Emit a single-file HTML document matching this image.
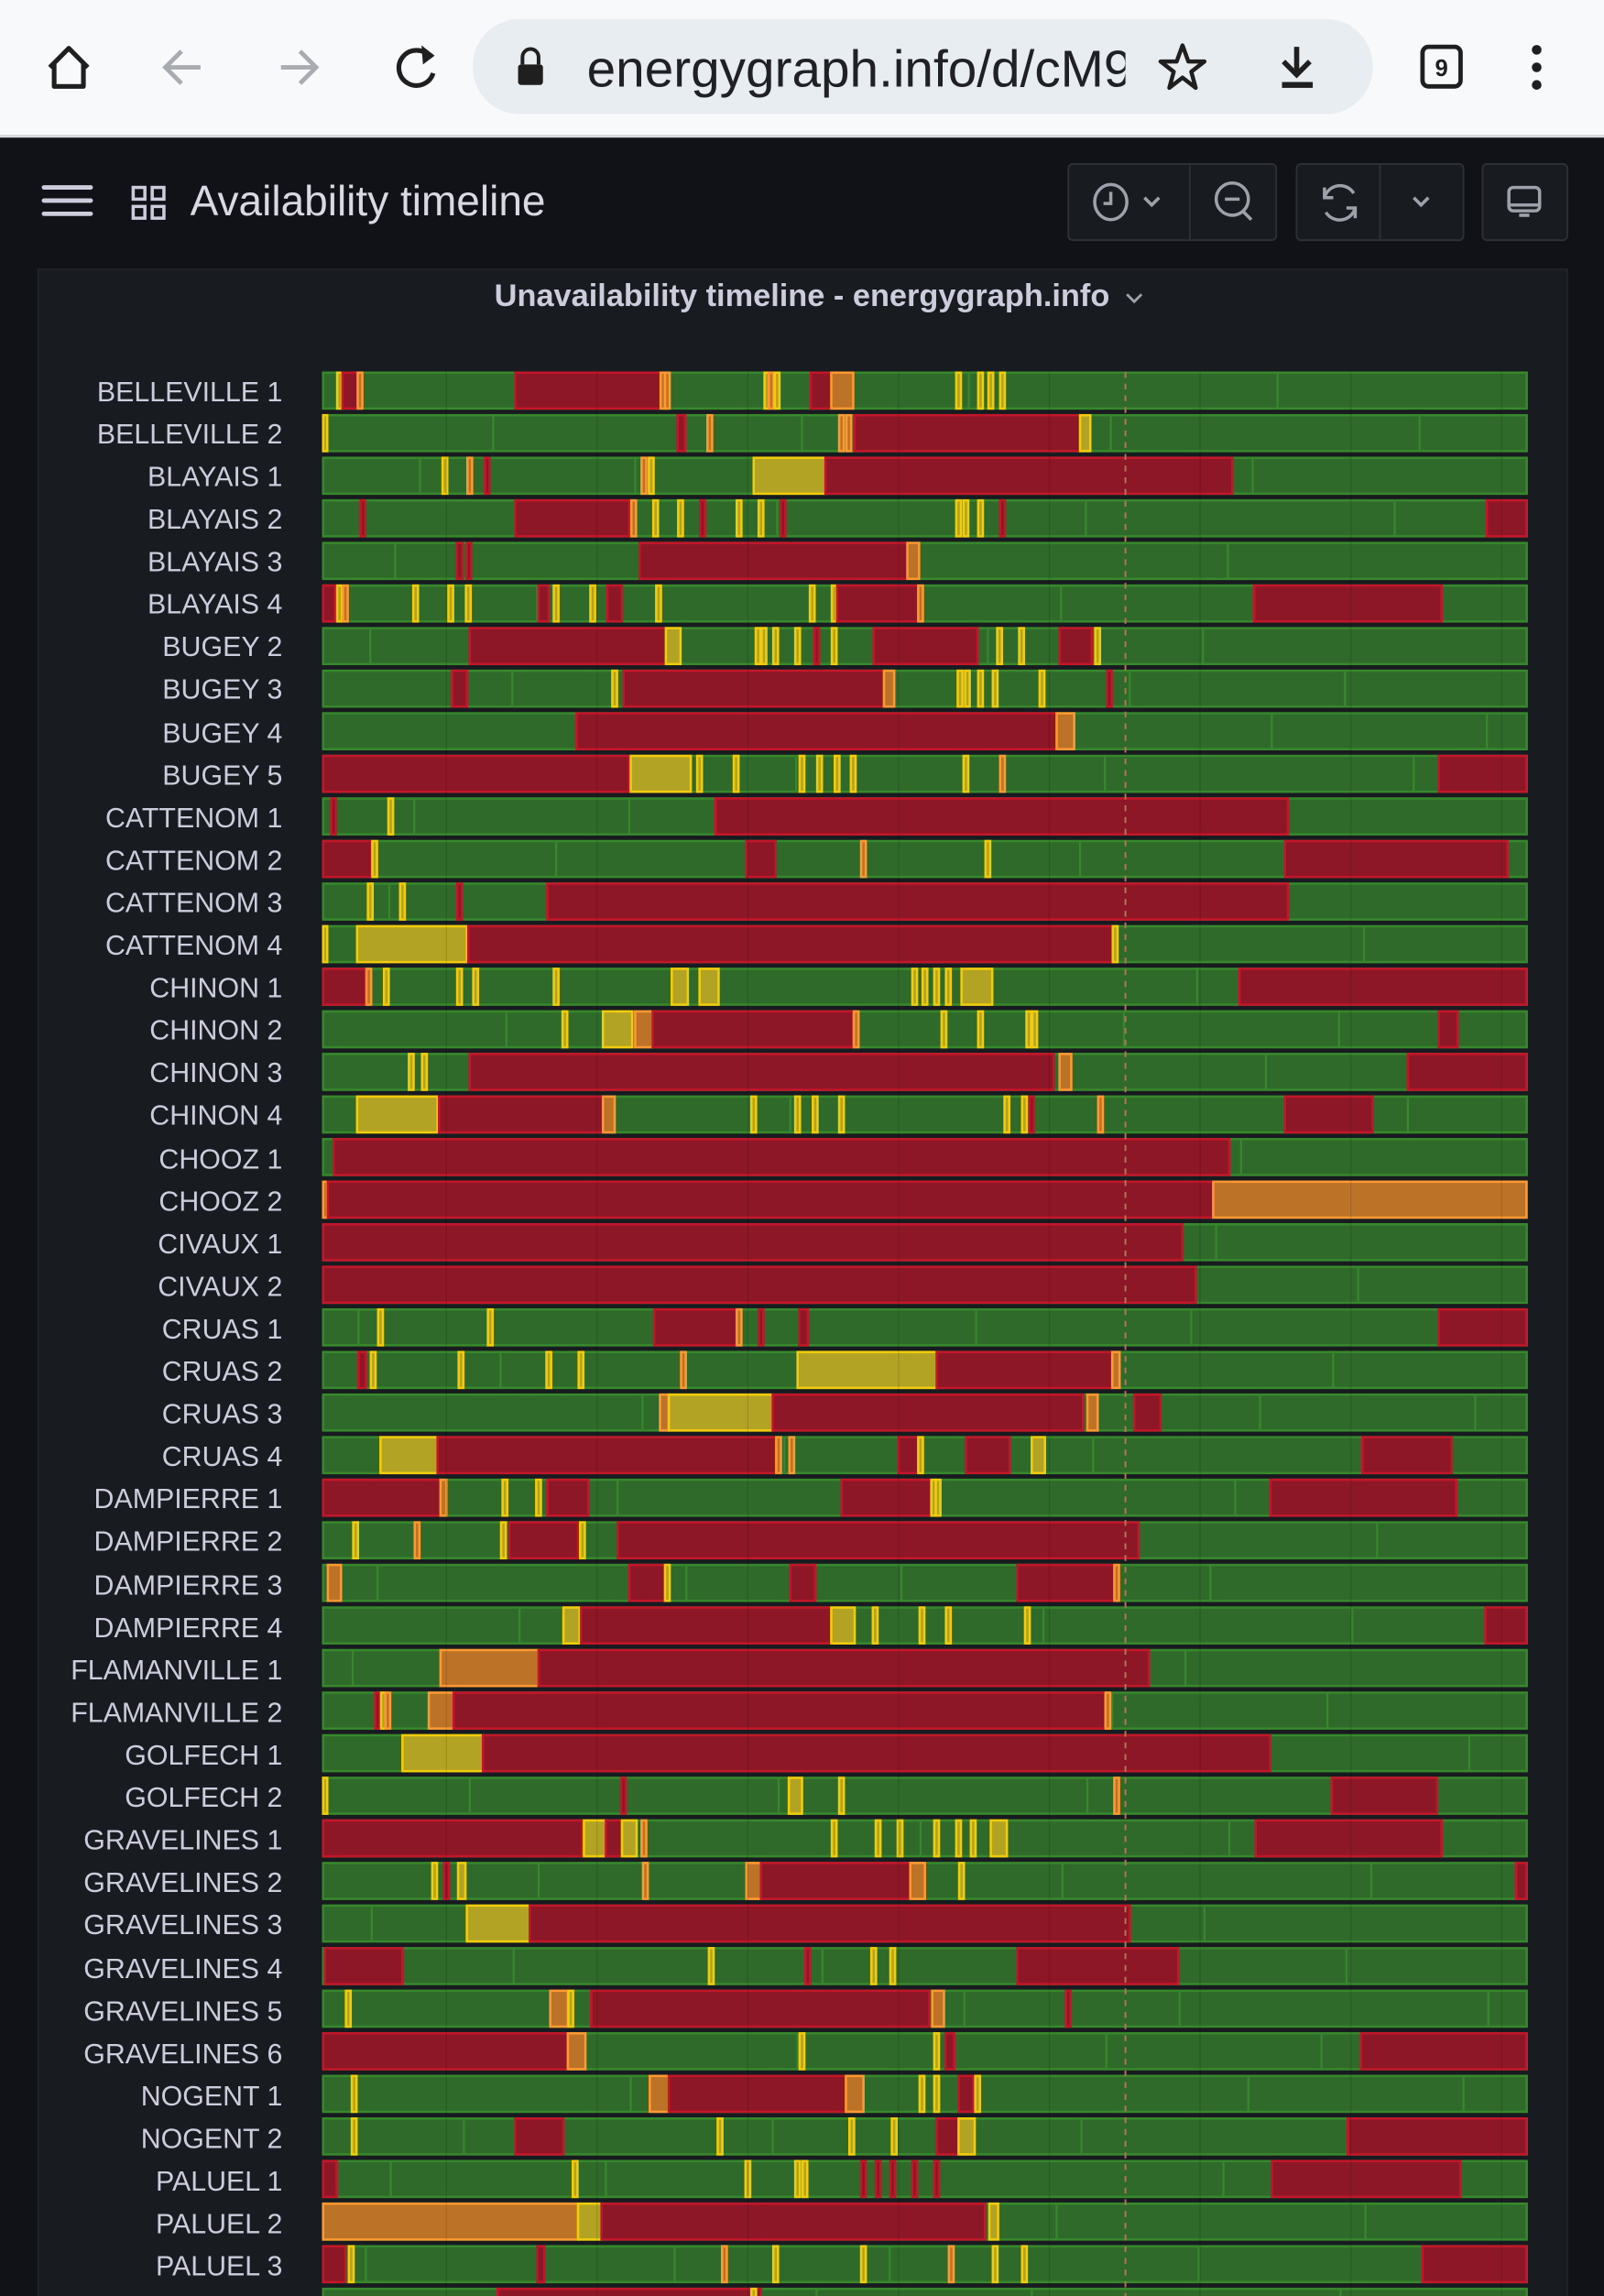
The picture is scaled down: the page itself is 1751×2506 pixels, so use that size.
<!DOCTYPE html>
<html><head><meta charset="utf-8"><style>
html,body{margin:0;padding:0;background:#111217;}
svg{display:block;}
text{font-family:"Liberation Sans",sans-serif;}
</style></head><body>
<svg id="s" xmlns="http://www.w3.org/2000/svg" width="1751" height="2506" viewBox="0 0 1096 1568" preserveAspectRatio="none">
<rect x="0" y="0" width="1096" height="1568" fill="#111217"/>
<rect x="0" y="0" width="1096" height="92" fill="#f8f9fb"/>
<rect x="0" y="92" width="1096" height="2" fill="#dadce0"/>
<path d="M34 46 L47 33 L60 46 M37 43 V59 H57 V43" fill="none" stroke="#1f1f1f" stroke-width="3.2" stroke-linejoin="round"/>
<path d="M137 46 H113 M124 35 L113 46 L124 57" fill="none" stroke="#a8abb0" stroke-width="3"/>
<path d="M192 46 H216 M205 35 L216 46 L205 57" fill="none" stroke="#a8abb0" stroke-width="3"/>
<path d="M294 39 A12 12 0 1 0 296 50" fill="none" stroke="#1f1f1f" stroke-width="3.2"/>
<path d="M288 31 L297 38 L289 44 Z" fill="#1f1f1f"/>
<rect x="323" y="13" width="615" height="65" rx="32" fill="#e8edf2"/>
<rect x="354" y="44" width="17" height="14" rx="2" fill="#1f1f1f"/>
<path d="M357 44 V39 A5.5 5.5 0 0 1 368 39 V44" fill="none" stroke="#1f1f1f" stroke-width="2.5"/>
<svg x="401" y="20" width="368" height="55"><text x="0" y="39" font-size="35.5" fill="#202124">energygraph.info/d/cM9</text></svg>
<path d="M808 31 L812 42 L823 42 L814 49 L817 60 L808 53 L799 60 L802 49 L793 42 L804 42 Z" fill="none" stroke="#1f1f1f" stroke-width="2.8" stroke-linejoin="round"/>
<path d="M886 32 V50 M877 42 L886 51 L895 42" fill="none" stroke="#1f1f1f" stroke-width="3.5"/>
<rect x="876" y="56" width="21" height="4" fill="#1f1f1f"/>
<rect x="972" y="32" width="26" height="27" rx="4" fill="none" stroke="#1f1f1f" stroke-width="3"/>
<text x="985" y="52" font-size="16" font-weight="bold" text-anchor="middle" fill="#1f1f1f">9</text>
<circle cx="1050" cy="34" r="3.3" fill="#1f1f1f"/><circle cx="1050" cy="46" r="3.3" fill="#1f1f1f"/><circle cx="1050" cy="58" r="3.3" fill="#1f1f1f"/>
<path d="M30 128 H62 M30 137 H62 M30 146 H62" stroke="#ccccdc" stroke-width="3" stroke-linecap="round"/>
<g fill="none" stroke="#ccccdc" stroke-width="2.2"><rect x="91" y="128" width="8" height="8"/><rect x="104" y="128" width="8" height="8"/><rect x="91" y="141" width="8" height="8"/><rect x="104" y="141" width="8" height="8"/></g>
<text x="130" y="147" font-size="28.8" fill="#d8d9e3">Availability timeline</text>
<g fill="#181b1f" stroke="#2c3036" stroke-width="1.2">
<rect x="730" y="112" width="142" height="52" rx="3"/><rect x="886" y="112" width="114" height="52" rx="3"/><rect x="1013" y="112" width="58" height="52" rx="3"/>
</g>
<path d="M813 112 V164 M943 112 V164" stroke="#2c3036" stroke-width="1.2"/>
<g fill="none" stroke="#9fa1aa" stroke-width="2.2">
<ellipse cx="759" cy="138" rx="11" ry="12"/><path d="M759 131 V139 H754"/>
<path d="M782 135 L787 140 L792 135"/>
<circle cx="842" cy="136" r="11"/><path d="M837 136 H847 M849 144 L855 150"/>
<path d="M905 135 A11 11 0 0 1 925 132 M926 142 A11 11 0 0 1 906 145 M905 128 V135 H911 M926 149 V142 H920"/>
<path d="M966 135 L971 140 L976 135"/>
<rect x="1031" y="128" width="21" height="16" rx="3"/><path d="M1031 140 H1052 M1038 147 H1045"/>
</g>
<rect x="26" y="184" width="1045" height="1400" fill="#181b1f" stroke="#22252b" stroke-width="1"/>
<text x="548" y="209" font-size="21.5" text-anchor="middle" fill="#ccccdc" font-weight="bold">Unavailability timeline - energygraph.info</text>
<path d="M770 201 L775 206 L780 201" fill="none" stroke="#9fa1aa" stroke-width="1.8"/>
<g id="bars"></g>
<g font-size="19" fill="#ccccdc" text-anchor="end">
<text x="193" y="274">BELLEVILLE 1</text><text x="193" y="303">BELLEVILLE 2</text><text x="193" y="332">BLAYAIS 1</text><text x="193" y="361">BLAYAIS 2</text><text x="193" y="390">BLAYAIS 3</text><text x="193" y="419">BLAYAIS 4</text><text x="193" y="448">BUGEY 2</text><text x="193" y="477">BUGEY 3</text><text x="193" y="507">BUGEY 4</text><text x="193" y="536">BUGEY 5</text><text x="193" y="565">CATTENOM 1</text><text x="193" y="594">CATTENOM 2</text><text x="193" y="623">CATTENOM 3</text><text x="193" y="652">CATTENOM 4</text><text x="193" y="681">CHINON 1</text><text x="193" y="710">CHINON 2</text><text x="193" y="739">CHINON 3</text><text x="193" y="768">CHINON 4</text><text x="193" y="798">CHOOZ 1</text><text x="193" y="827">CHOOZ 2</text><text x="193" y="856">CIVAUX 1</text><text x="193" y="885">CIVAUX 2</text><text x="193" y="914">CRUAS 1</text><text x="193" y="943">CRUAS 2</text><text x="193" y="972">CRUAS 3</text><text x="193" y="1001">CRUAS 4</text><text x="193" y="1030">DAMPIERRE 1</text><text x="193" y="1059">DAMPIERRE 2</text><text x="193" y="1089">DAMPIERRE 3</text><text x="193" y="1118">DAMPIERRE 4</text><text x="193" y="1147">FLAMANVILLE 1</text><text x="193" y="1176">FLAMANVILLE 2</text><text x="193" y="1205">GOLFECH 1</text><text x="193" y="1234">GOLFECH 2</text><text x="193" y="1263">GRAVELINES 1</text><text x="193" y="1292">GRAVELINES 2</text><text x="193" y="1321">GRAVELINES 3</text><text x="193" y="1351">GRAVELINES 4</text><text x="193" y="1380">GRAVELINES 5</text><text x="193" y="1409">GRAVELINES 6</text><text x="193" y="1438">NOGENT 1</text><text x="193" y="1467">NOGENT 2</text><text x="193" y="1496">PALUEL 1</text><text x="193" y="1525">PALUEL 2</text><text x="193" y="1554">PALUEL 3</text>
</g>
</svg>
<script>
var D=[
"232y 234-245r 246o 352-452r 453o 456o 524y 527o 531y 554-568r 568-583o 655y 670y 677y 685y",
"222y 463-468r 485o 575o 580o 584-738r 738-745y",
"304y 321o 333r 440o 445y 515-564y 564-842r",
"248r 352-430r 433o 448y 465y 480r 505y 520y 535r 655y 660y 670y 685r 1016-1043r",
"312-316r 319-322r 437-620r 620-628o",
"220-229r 232y 236o 284y 308y 320y 368-375r 380y 405y 415-425r 450y 555y 570y 572-628r 629o 857-985r",
"321-455r 455-465y 518y 522y 530y 545y 558r 570y 597-668r 683y 698y 724-746r 750y",
"309-319r 420y 426-604r 604-611o 656y 661y 670y 680y 712y 758r",
"394-722r 722-734o",
"220-430r 431-472y 478y 503y 548y 560y 572y 583y 660y 685o 983-1043r",
"228r 267y 489-880r",
"220-254r 256y 510-530r 590o 675y 878-1030r",
"253y 275y 314r 374-880r",
"222y 244-319y 320-760r 762y",
"220-250r 252o 264y 314y 325y 380y 459-470y 478-491y 625y 632y 640y 648y 657-678y 847-1043r",
"386y 412-432y 434-446o 446-583r 585o 645y 670y 703y 707y 983-996r",
"281y 290y 321-720r 724-732o 962-1043r",
"244-299y 300-412r 412-420o 515y 545y 557y 575y 688y 700y 705r 752o 878-938r",
"228-840r",
"222o 224-829r 829-1043o",
"220-808r",
"220-817r",
"260y 335y 447-505r 505o 520r 546-552r 983-1043r",
"245-250r 255y 315y 375y 397y 467o 545-640y 640-760r 760-765o",
"451-457o 457-528y 528-740r 743-750o 775-793r",
"260-299y 299-530r 532o 541o 614-628r 629y 660-690r 705-714y 931-992r",
"220-301r 301-305o 345y 368y 374-402r 575-636r 638y 641y 868-995r",
"243y 285o 344y 348-395r 398y 422-778r",
"224-233o 430-455r 456y 540-557r 695-763r 763o",
"385-396y 397-568r 568-584y 598y 630y 648y 702y 1015-1043r",
"301-368o 368-785r",
"258r 262y 265o 293-310o 310-755r 757o",
"275-330y 330-868r",
"222y 426r 539-548y 575y 763o 910-982r",
"220-398r 399-414y 414-425r 425-435y 440o 570y 600y 615y 640y 655y 665y 677-688y 858-985r",
"297y 305r 313-318y 441o 510-520o 520-622r 622-632o 657y 1036-1043r",
"319-362y 362-772r",
"222-275r 486y 552r 597y 610y 695-805r",
"238y 376-388o 390y 404-635r 637-645o 730r",
"220-388r 388-400o 548y 640y 646-652r 930-1043r",
"242y 444-457o 457-578r 578-590o 630y 640y 655-665r 668y",
"242y 352-385r 492y 582y 611y 640-655r 655-666y 921-1043r",
"220-230r 393y 511y 545y 550y 590r 600r 610r 625r 640r 869-998r",
"220-395o 395-411y 411-673r 676-682y",
"220-236r 240y 367-372r 495o 530y 590y 650o 680y 700y 972-1043r",
"340-520r 515y"
];
var C={g:["#2f6a2a","#37872d"],r:["#8d1726","#c4162a"],y:["#b3a324","#f2cc0c"],o:["#bc7328","#ff9830"]};
var ns="http://www.w3.org/2000/svg",G=document.getElementById("bars");
function R(x,y,w,h,c){var e=document.createElementNS(ns,"rect");e.setAttribute("x",x);e.setAttribute("y",y);e.setAttribute("width",Math.max(w,0.5));e.setAttribute("height",h);e.setAttribute("fill",C[c][0]);e.setAttribute("stroke",C[c][1]);e.setAttribute("stroke-width","1.6");G.appendChild(e);}
function L(x,y,h){var l=document.createElementNS(ns,"line");l.setAttribute("x1",x);l.setAttribute("x2",x);l.setAttribute("y1",y);l.setAttribute("y2",y+h);l.setAttribute("stroke","#37872d");l.setAttribute("stroke-width","1.4");G.appendChild(l);}
for(var i=0;i<D.length;i++){var y=254.5+i*29.08,h=24.5;
 R(220.8,y,822.4,h,"g");
 for(var k=0;k<4;k++){L(240+((i*97+k*211)%780),y,h);}
 D[i].split(" ").forEach(function(t){if(!t)return;var c=t.slice(-1),p=t.slice(0,-1).split("-"),a,b;
  if(p.length==1){a=+p[0]-1.6;b=+p[0]+1.6;}else{a=+p[0];b=+p[1];}
  a=Math.max(a,220.8);b=Math.min(b,1043.2);R(a,y,b-a,h,c);});
}
for(var x=305;x<1043;x+=103){var l=document.createElementNS(ns,"line");l.setAttribute("x1",x);l.setAttribute("x2",x);l.setAttribute("y1",254);l.setAttribute("y2",1568);l.setAttribute("stroke","rgba(0,0,0,0.12)");l.setAttribute("stroke-width","0.8");G.appendChild(l);}
var d=document.createElementNS(ns,"line");d.setAttribute("x1",769);d.setAttribute("x2",769);d.setAttribute("y1",254);d.setAttribute("y2",1568);d.setAttribute("stroke","#b07a58");d.setAttribute("stroke-width","1.2");d.setAttribute("stroke-dasharray","4 4");G.appendChild(d);
</script>
</body></html>
